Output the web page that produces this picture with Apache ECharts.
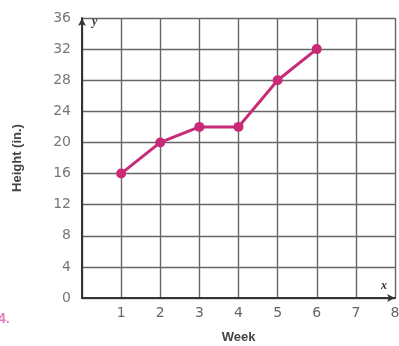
<!DOCTYPE html>
<html><head><meta charset="utf-8">
<script src="https://cdn.jsdelivr.net/npm/echarts@6/dist/echarts.min.js"></script>
<style>html,body{margin:0;padding:0;background:#fff}#c{width:399px;height:346px}</style>
</head><body><div id="c"></div>
<script>
const weeks = [1, 2, 3, 4, 5, 6];
const heights = [16, 20, 22, 22, 28, 32];
const xTicks = [1, 2, 3, 4, 5, 6, 7, 8];
const yTicks = [0, 4, 8, 12, 16, 20, 24, 28, 32, 36];

const chart = echarts.init(document.getElementById('c'));
const pink = '#c92a76';
chart.setOption({
  animation: false,
  backgroundColor: '#fff',
  grid: {left: 82, right: 4, top: 18, bottom: 48, outerBoundsMode: 'none', containLabel: false},
  xAxis: {
    type: 'value', min: 0, max: 8, interval: 1,
    name: 'Week', nameLocation: 'middle', nameGap: 33,
    nameTextStyle: {fontFamily: 'Liberation Sans', fontWeight: 'bold', fontSize: 13, color: '#444'},
    axisLine: {show: true, onZero: false, lineStyle: {color: '#333', width: 2}, symbol: ['none', 'arrow'], symbolSize: [6, 8]},
    axisTick: {show: false},
    axisLabel: {fontFamily: 'DejaVu Sans', fontSize: 14, color: '#666', margin: 8,
      formatter: v => xTicks.includes(v) ? String(v) : ''},
    splitLine: {show: true, lineStyle: {color: '#666', width: 1.4}}
  },
  yAxis: {
    type: 'value', min: 0, max: 36, interval: 4,
    name: 'Height (in.)', nameLocation: 'middle', nameGap: 58, nameRotate: 90,
    nameTextStyle: {fontFamily: 'Liberation Sans', fontWeight: 'bold', fontSize: 13, color: '#444'},
    axisLine: {show: true, onZero: false, lineStyle: {color: '#333', width: 2}, symbol: ['none', 'arrow'], symbolSize: [6, 8]},
    axisTick: {show: false},
    axisLabel: {fontFamily: 'DejaVu Sans', fontSize: 14, color: '#777', margin: 11,
      formatter: v => yTicks.includes(v) ? String(v) : ''},
    splitLine: {show: true, lineStyle: {color: '#666', width: 1.4}}
  },
  series: [{
    type: 'line',
    data: weeks.map((w, i) => [w, heights[i]]),
    symbol: 'circle', symbolSize: 10,
    lineStyle: {color: pink, width: 3},
    itemStyle: {color: pink}
  }],
  graphic: [
    {type: 'text', left: 92, top: 16, style: {text: 'y', font: 'italic bold 12px "Liberation Serif"', fill: '#333'}},
    {type: 'text', left: 381, top: 280, style: {text: 'x', font: 'italic bold 12px "Liberation Serif"', fill: '#333'}},
    {type: 'text', left: -2, top: 312, style: {text: '4.', font: 'bold 14px "Liberation Sans"', fill: '#e080c0'}}
  ]
});
</script></body></html>
